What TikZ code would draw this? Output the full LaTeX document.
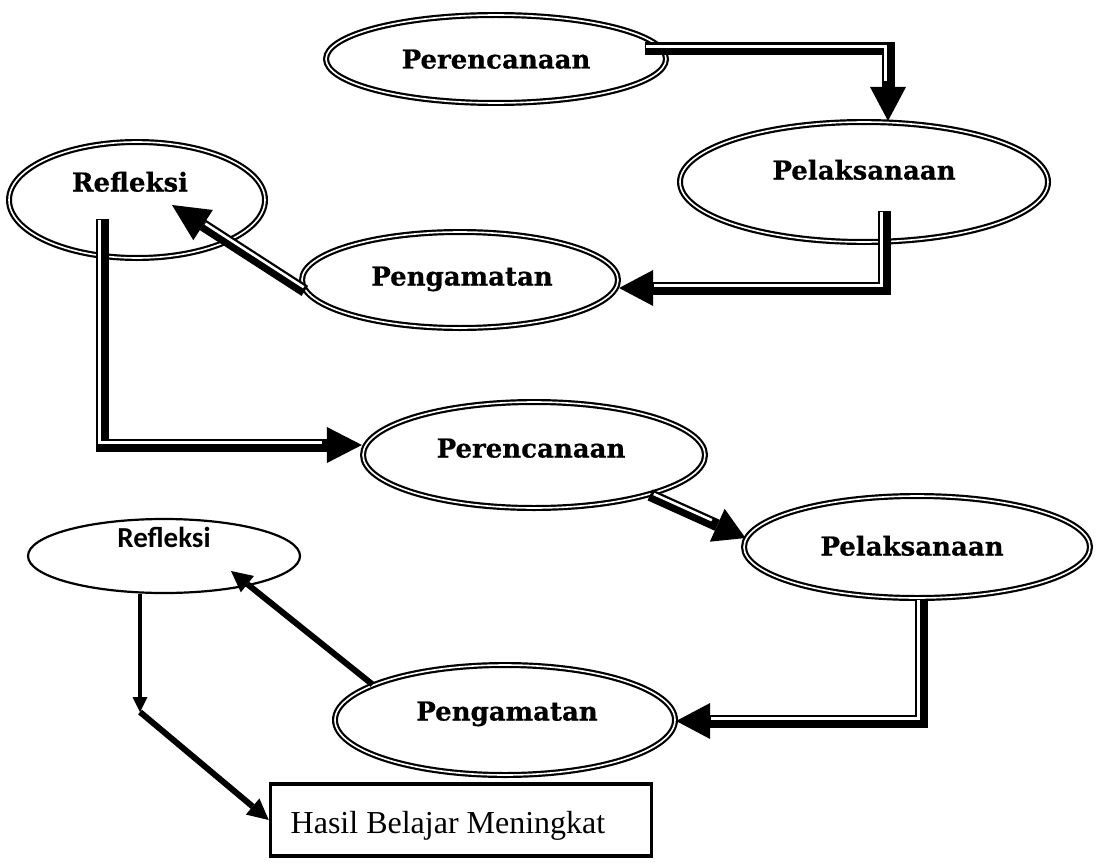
\documentclass[tikz,border=0pt]{standalone}
\usepackage{fontspec}
\setmainfont{Liberation Serif}
\newfontfamily\bkfont{DejaVu Serif}[BoldFeatures={FakeBold=0.6}]
\newfontfamily\cbfont{Carlito}
\usetikzlibrary{shapes.geometric,arrows.meta,calc}
\newcommand\etxt[3]{\raisebox{#2}[0pt][0pt]{\makebox[0pt]{\hspace*{#1}#3\hspace*{-#1}}}}
\begin{document}
\begin{tikzpicture}[x=1pt,y=-1pt,
  ell/.style={ellipse, draw, double, line width=2.2pt, double distance=1.6pt, inner sep=0pt,
    font=\bkfont\bfseries\fontsize{26}{30}\selectfont},
  sell/.style={ellipse, draw, line width=2.2pt, inner sep=0pt,
    font=\cbfont\bfseries\fontsize{29}{32}\selectfont},
  bigtip/.style={-{Triangle[length=#1,width=36pt,line width=0pt]}},
  dblh/.style={line width=13pt, postaction={draw=white, line width=3pt, arrows=-,
    shorten <=3pt, shorten >=#1, transform canvas={shift={(-2.5pt,2.5pt)}}}},
  dbld/.style 2 args={line width=12pt, postaction={draw=white, line width=2.6pt, arrows=-,
    shorten <=3pt, shorten >=38pt, transform canvas={shift={(#1,#2)}}}},
  heavy/.style={line width=6pt, -{Triangle[length=21pt,width=21pt,line width=0pt]}},
  light/.style={line width=3.5pt, -{Triangle[length=15pt,width=15pt,line width=0pt]}}
]
\useasboundingbox (0,0) rectangle (1099,864);

% ellipses
\node[ell, minimum width=340pt, minimum height=88pt]  (e1) at (496,59)  {\etxt{0pt}{-9.5pt}{Perencanaan}};
\node[ell, minimum width=368pt, minimum height=120pt] (e2) at (864,182) {\etxt{0pt}{2.5pt}{Pelaksanaan}};
\node[ell, minimum width=316pt, minimum height=96pt]  (e3) at (460,280) {\etxt{2pt}{-5.5pt}{Pengamatan}};
\node[ell, minimum width=256pt, minimum height=116pt] (e4) at (137,200) {\etxt{-7pt}{8.5pt}{Refleksi}};
\node[ell, minimum width=342pt, minimum height=106pt] (e5) at (534,455) {\etxt{-3pt}{-2.5pt}{Perencanaan}};
\node[ell, minimum width=346pt, minimum height=102pt] (e6) at (917,547) {\etxt{-5pt}{-8.5pt}{Pelaksanaan}};
\node[ell, minimum width=340pt, minimum height=110pt] (e7) at (505,720) {\etxt{2pt}{-0.5pt}{Pengamatan}};
\node[sell, minimum width=272pt, minimum height=74pt] (e8) at (164,556) {\etxt{0pt}{8.5pt}{Refleksi}};
\node[draw, line width=3.5pt, minimum width=381pt, minimum height=72pt, inner sep=0pt,
  font=\fontsize{32}{36}\selectfont] (box) at (461,820) {\etxt{-13pt}{-13pt}{Hasil Belajar Meningkat}};

% corner coordinates
\coordinate (k1) at (888,49);
\coordinate (k2) at (884,288);
\coordinate (k4) at (102,445);
\coordinate (k6) at (921,721);
\coordinate (k8) at (140,712);

% connectors
\draw[dblh=37pt, bigtip=34pt] ($(e1.east |- k1)+(-22,0)$) -- (k1) -- (k1 |- e2.north);
\draw[dblh=37pt, bigtip=34pt] ($(e2.south -| k2)+(0,-32)$) -- (k2) -- (e3.east |- k2);
\draw[dbld={1.4pt}{2pt}, bigtip=37pt] (e3.184) -- ($(e4.center)+(35,5)$);
\draw[dblh=37pt, bigtip=35pt] ($(e4.south -| k4)+(0,-40)$) -- (k4) -- (e5.west |- k4);
\draw[dbld={1pt}{2.2pt}, bigtip=31pt] (e5.-19) -- (e6.177);
\draw[dblh=37pt, bigtip=34pt] (k6 |- e6.south) -- (k6) -- (e7.east |- k6);
\draw[heavy] (e7.165) -- ($(e8.center)+(67,15)$);
\draw[light] (e8.south -| k8) -- (k8);
\draw[heavy] (k8) -- (box.west);
\end{tikzpicture}
\end{document}
